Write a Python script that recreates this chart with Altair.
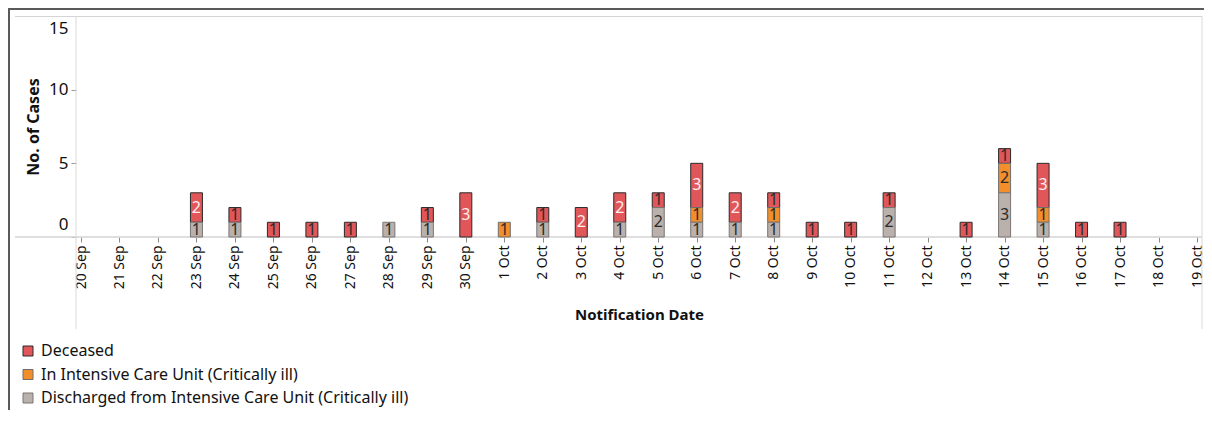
import altair as alt
import pandas as pd

dates = ["2020-09-20", "2020-09-21", "2020-09-22", "2020-09-23", "2020-09-24",
         "2020-09-25", "2020-09-26", "2020-09-27", "2020-09-28", "2020-09-29",
         "2020-09-30", "2020-10-01", "2020-10-02", "2020-10-03", "2020-10-04",
         "2020-10-05", "2020-10-06", "2020-10-07", "2020-10-08", "2020-10-09",
         "2020-10-10", "2020-10-11", "2020-10-12", "2020-10-13", "2020-10-14",
         "2020-10-15", "2020-10-16", "2020-10-17", "2020-10-18", "2020-10-19"]
deceased =   [0, 0, 0, 2, 1, 1, 1, 1, 0, 1, 3, 0, 1, 2, 2, 1, 3, 2, 1, 1, 1, 1, 0, 1, 1, 3, 1, 1, 0, 0]
icu =        [0, 0, 0, 0, 0, 0, 0, 0, 0, 0, 0, 1, 0, 0, 0, 0, 1, 0, 1, 0, 0, 0, 0, 0, 2, 1, 0, 0, 0, 0]
discharged = [0, 0, 0, 1, 1, 0, 0, 0, 1, 1, 0, 0, 1, 0, 1, 2, 1, 1, 1, 0, 0, 2, 0, 0, 3, 1, 0, 0, 0, 0]

statuses = ["Deceased", "In Intensive Care Unit (Critically ill)",
            "Discharged from Intensive Care Unit (Critically ill)"]
colors = ["#e15759", "#f28e2b", "#bab0ac"]
strokes = ["#2a2a2a", "#6e6e6e", "#7a7573"]
stack_order = [2, 1, 0]

rows = []
for i, d in enumerate(dates):
    for s, vals, o in zip(statuses, [deceased, icu, discharged], stack_order):
        if vals[i] > 0:
            rows.append({"date": d, "status": s, "value": vals[i], "ord": o})
df = pd.DataFrame(rows)

W, H = 1126, 221
FONT = "Noto Sans"


def dt(s):
    y, m, d = (int(p) for p in s.split("-"))
    return alt.DateTime(year=y, month=m, date=d, utc=True)


xscale = alt.Scale(type="utc", domain=[dt(dates[0]), dt(dates[-1])])
xaxis = alt.Axis(values=[dt(d) for d in dates],
                 labelExpr="utcFormat(datum.value, '%-d %b')",
                 labelAngle=270, labelFontSize=14, labelColor="#111", labelPadding=3,
                 labelFlush=True, labelFlushOffset=-5, grid=False, domain=False,
                 ticks=True, tickSize=5,
                 tickColor="#888", title="Notification Date", titleFontSize=15,
                 titleFontWeight="bold", titleColor="#111", titleX=W / 2, titleY=77,
                 titleBaseline="middle", titleAlign="center")
yscale = alt.Scale(domain=[0, 15], nice=False)
yaxis = alt.Axis(values=[0, 5, 10, 15], grid=False, domain=False, tickSize=5,
                 tickColor="#999", labelFontSize=17, labelColor="#111", labelFlush=True,
                 labelFlushOffset=-4, labelPadding=3, title="No. of Cases",
                 titleFontSize=16, titleFontWeight="bold", titleColor="#111",
                 titleX=-43, titleY=H / 2, titleAngle=270, titleAlign="center",
                 titleBaseline="middle")

base = alt.Chart(df)

bars = base.mark_bar(size=12, strokeWidth=1).encode(
    x=alt.X("date:T", scale=xscale, axis=xaxis),
    y=alt.Y("value:Q", stack="zero", scale=yscale, axis=yaxis),
    color=alt.Color("status:N", scale=alt.Scale(domain=statuses, range=colors),
                    legend=alt.Legend(title=None, orient="none", legendX=-56, legendY=327,
                                      symbolType="square", symbolSize=100,
                                      symbolStrokeColor="#444", symbolStrokeWidth=1,
                                      labelFontSize=16, labelColor="#111", rowPadding=7.5,
                                      labelOffset=5, labelLimit=0, padding=0)),
    stroke=alt.Stroke("status:N", scale=alt.Scale(domain=statuses, range=strokes), legend=None),
    order=alt.Order("ord:Q", sort="ascending"),
)

labels = base.transform_stack(
    stack="value", groupby=["date"], as_=["v0", "v1"],
    sort=[alt.SortField("ord", order="ascending")]
).transform_calculate(mid="(datum.v0 + datum.v1) / 2").mark_text(
    fontSize=16, baseline="middle", align="center"
).encode(
    x=alt.X("date:T", scale=xscale, axis=xaxis),
    y=alt.Y("mid:Q", scale=yscale, axis=yaxis),
    text=alt.Text("value:Q"),
    color=alt.condition("datum.status == 'Deceased' && datum.value >= 2",
                        alt.value("#ffeef0"), alt.value("#2b2b2b")),
)

one = pd.DataFrame({"k": [0]})
line_top = alt.Chart(one).mark_rule(color="#d4d4d4", strokeWidth=1).encode(
    x=alt.value(-61), x2=alt.value(W), y=alt.value(0.5))
line_zero = alt.Chart(one).mark_rule(color="#d4d4d4", strokeWidth=1.5).encode(
    x=alt.value(-61), x2=alt.value(W), y=alt.value(H))
line_left = alt.Chart(one).mark_rule(color="#d9d9d9", strokeWidth=1).encode(
    x=alt.value(0), y=alt.value(0), y2=alt.value(313))
line_right = alt.Chart(one).mark_rule(color="#d9d9d9", strokeWidth=1).encode(
    x=alt.value(W), y=alt.value(0), y2=alt.value(313))
frame_left = alt.Chart(one).mark_rule(color="#5a5a5a", strokeWidth=2).encode(
    x=alt.value(-67), y=alt.value(-7), y2=alt.value(H + 180))
frame_top = alt.Chart(one).mark_rule(color="#5a5a5a", strokeWidth=2).encode(
    x=alt.value(-68), x2=alt.value(W + 2), y=alt.value(-7))

chart = alt.layer(
    line_top, line_zero, line_left, line_right, frame_left, frame_top, bars, labels
).properties(
    width=W, height=H,
    autosize=alt.AutoSizeParams(type="none"),
    padding={"left": 68, "top": 8, "right": 2, "bottom": 173},
).configure(font=FONT).configure_view(stroke=None)

chart.save("out.html", embed_options={"renderer": "svg", "actions": False})
